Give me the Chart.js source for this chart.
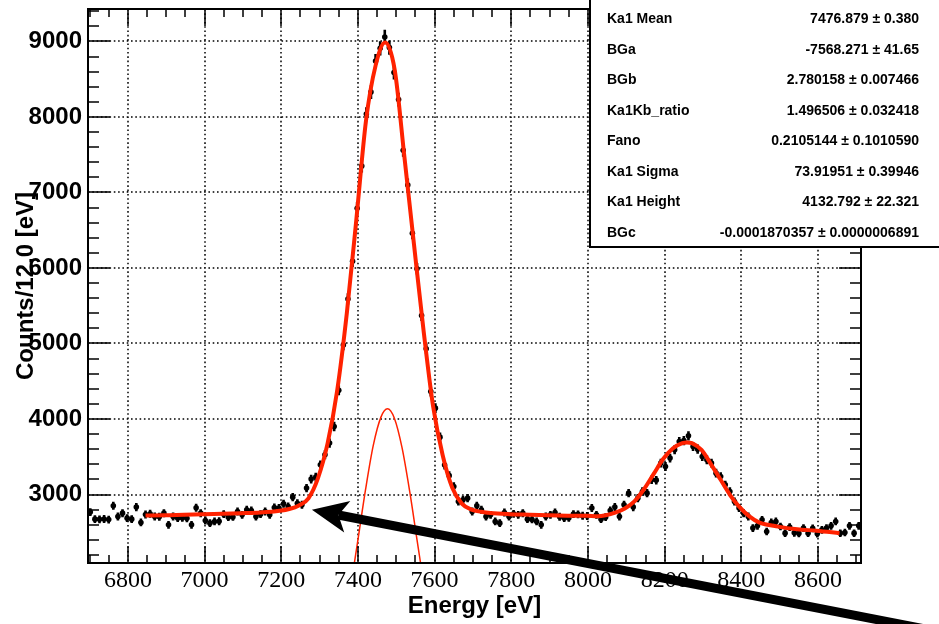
<!DOCTYPE html>
<html lang="en">
<head>
    <meta charset="UTF-8">
    <title>Energy spectrum fit</title>
    <script src="https://cdn.jsdelivr.net/npm/chart.js"></script>
    <style>
        body { margin: 0; background: #fff; }
    </style>
</head>
<body>
    <canvas id="specChart" width="939" height="624"></canvas>

    <script>
        // histogram, 12 eV bins starting at 6696 eV
        const binStart = 6696;
        const binWidth = 12;
        const counts = [
            2767, 2674, 2671, 2676, 2668, 2850, 2709, 2753, 2687, 2674,
            2833, 2630, 2735, 2745, 2709, 2706, 2753, 2599, 2709, 2687,
            2690, 2684, 2599, 2824, 2753, 2656, 2621, 2643, 2646, 2740,
            2700, 2703, 2775, 2731, 2797, 2788, 2709, 2740, 2775, 2731,
            2828, 2820, 2877, 2841, 2965, 2885,
            2864, 3085, 3204, 3230, 3393, 3526, 3681, 3901, 4380,
            4980, 5590, 6090, 6790, 7350, 8040, 8330, 8740, 8910, 9060,
            8920, 8590, 8230, 7560, 7100, 6460, 5990, 5370, 4930, 4364,
            4144, 3760, 3390, 3250,
            3106, 2907, 2930, 2952, 2775, 2850, 2797, 2709, 2731, 2643,
            2621, 2762, 2709, 2744, 2731, 2753, 2674, 2670, 2643, 2599,
            2709, 2731, 2762, 2706, 2687, 2690, 2740, 2737, 2718, 2715,
            2820, 2731,
            2674, 2700, 2788, 2833, 2709, 2864, 3018, 2833, 2952, 3040,
            3018, 3195, 3190, 3416, 3371, 3482, 3592, 3702, 3715, 3777,
            3636, 3601, 3503, 3460, 3416, 3283, 3238, 3128, 3040, 2907,
            2820, 2753, 2709, 2555, 2585, 2665, 2510, 2630, 2643, 2576,
            2488, 2568, 2492, 2485, 2555, 2488, 2551, 2480, 2532, 2555,
            2585, 2643, 2488, 2497, 2585, 2488, 2585
        ];

        // total fit (thick red)
        const fitEnergy = [
            6846, 6896, 6946, 6996, 7046, 7096, 7146, 7196, 7221, 7246,
            7271, 7296, 7321, 7346, 7371, 7396, 7421, 7446, 7471, 7496,
            7521, 7546, 7571, 7596, 7621, 7646, 7671, 7696, 7721, 7746,
            7796, 7846, 7896, 7946, 7996, 8026, 8046, 8071, 8096, 8121,
            8146, 8171, 8196, 8221, 8246, 8258, 8271, 8296, 8321, 8346,
            8371, 8396, 8421, 8446, 8496, 8546, 8596, 8656
        ];
        const fitCounts = [
            2722, 2726, 2731, 2740, 2745, 2752, 2762, 2785, 2808, 2855,
            2950, 3220, 3680, 4380, 5400, 6650, 7950, 8680, 8985, 8620,
            7480, 6320, 5180, 4170, 3520, 3090, 2880, 2800, 2772, 2755,
            2740, 2732, 2725, 2720, 2718, 2712, 2725, 2760, 2815, 2910,
            3070, 3270, 3470, 3610, 3680, 3690, 3680, 3590, 3400, 3195,
            2990, 2830, 2710, 2630, 2575, 2540, 2520, 2488
        ];

        // Ka1 component (thin red)
        const ka1Energy = [7360, 7380, 7400, 7420, 7440, 7460, 7477, 7495, 7515, 7535, 7555, 7575, 7595];
        const ka1Counts = [1180, 1750, 2400, 3070, 3650, 4025, 4135, 4010, 3620, 3040, 2370, 1715, 1155];

        const xTicks = [6800, 7000, 7200, 7400, 7600, 7800, 8000, 8200, 8400, 8600];
        const yTicks = [3000, 4000, 5000, 6000, 7000, 8000, 9000];

        const statNames = ["Ka1 Mean", "BGa", "BGb", "Ka1Kb_ratio", "Fano", "Ka1 Sigma", "Ka1 Height", "BGc"];
        const statValues = [
            "7476.879 \u00b1 0.380",
            "-7568.271 \u00b1 41.65",
            "2.780158 \u00b1 0.007466",
            "1.496506 \u00b1 0.032418",
            "0.2105144 \u00b1 0.1010590",
            "73.91951 \u00b1 0.39946",
            "4132.792 \u00b1 22.321",
            "-0.0001870357 \u00b1 0.0000006891"
        ];

        // arrow annotation, in data units
        const arrowTip = [7280, 2797];
        const arrowTail = [8918, 1181];

        const red = "#ff2200";

        const points = counts.map((c, i) => ({ x: binStart + binWidth * (i + 0.5), y: c }));
        const fitLine = fitEnergy.map((e, i) => ({ x: e, y: fitCounts[i] }));
        const ka1Line = ka1Energy.map((e, i) => ({ x: e, y: ka1Counts[i] }));

        // ROOT style frame: dotted grid, error bars, inner ticks, stats box, arrow
        const rootStyle = {
            id: "rootStyle",
            beforeDatasetsDraw(chart) {
                const { ctx, chartArea: a, scales: { x, y } } = chart;
                ctx.save();
                ctx.strokeStyle = "#000";
                ctx.lineWidth = 1.5;
                ctx.setLineDash([1.6, 2.7]);
                ctx.beginPath();
                xTicks.forEach(v => {
                    const px = Math.round(x.getPixelForValue(v));
                    ctx.moveTo(px, a.top);
                    ctx.lineTo(px, a.bottom);
                });
                yTicks.forEach(v => {
                    const py = Math.round(y.getPixelForValue(v));
                    ctx.moveTo(a.left, py);
                    ctx.lineTo(a.right, py);
                });
                ctx.stroke();
                ctx.setLineDash([]);

                // poisson error bars
                ctx.lineWidth = 2.6;
                ctx.beginPath();
                points.forEach(p => {
                    const px = x.getPixelForValue(p.x);
                    const e = Math.sqrt(p.y);
                    ctx.moveTo(px, y.getPixelForValue(p.y + e));
                    ctx.lineTo(px, y.getPixelForValue(p.y - e));
                });
                ctx.stroke();
                ctx.restore();
            },
            afterDatasetsDraw(chart) {
                const { ctx, chartArea: a, scales: { x, y } } = chart;
                ctx.save();
                ctx.strokeStyle = "#000";
                ctx.lineWidth = 2;
                ctx.strokeRect(a.left, a.top, a.right - a.left, a.bottom - a.top);
                ctx.lineWidth = 1.5;
                ctx.beginPath();
                for (let v = Math.ceil(x.min / 50) * 50; v <= x.max; v += 50) {
                    const px = Math.round(x.getPixelForValue(v));
                    const len = v % 200 === 0 ? 17 : 8;
                    ctx.moveTo(px, a.bottom);
                    ctx.lineTo(px, a.bottom - len);
                    ctx.moveTo(px, a.top);
                    ctx.lineTo(px, a.top + len);
                }
                for (let v = Math.ceil(y.min / 200) * 200; v <= y.max; v += 200) {
                    const py = Math.round(y.getPixelForValue(v));
                    const len = v % 1000 === 0 ? 22 : 11;
                    ctx.moveTo(a.left, py);
                    ctx.lineTo(a.left + len, py);
                    ctx.moveTo(a.right, py);
                    ctx.lineTo(a.right - len, py);
                }
                ctx.stroke();
                ctx.restore();
            },
            afterDraw(chart) {
                const { ctx, scales: { x, y } } = chart;
                ctx.save();

                // stats box
                ctx.fillStyle = "#fff";
                ctx.fillRect(590, -5, 360, 252);
                ctx.strokeStyle = "#000";
                ctx.lineWidth = 2;
                ctx.strokeRect(590, -5, 360, 252);
                ctx.fillStyle = "#000";
                ctx.font = 'bold 14px "Liberation Sans"';
                ctx.textBaseline = "middle";
                statNames.forEach((name, i) => {
                    const ty = 19.5 + i * 30.5;
                    ctx.textAlign = "left";
                    ctx.fillText(name, 607, ty);
                    ctx.textAlign = "right";
                    ctx.fillText(statValues[i], 919, ty);
                });

                // arrow
                const tx = x.getPixelForValue(arrowTip[0]);
                const ty = y.getPixelForValue(arrowTip[1]);
                const sx = x.getPixelForValue(arrowTail[0]);
                const sy = y.getPixelForValue(arrowTail[1]);
                const ang = Math.atan2(ty - sy, tx - sx);
                const c = Math.cos(ang), s = Math.sin(ang);
                const headLen = 36, headHalf = 16, notch = 27;
                ctx.lineWidth = 9;
                ctx.beginPath();
                ctx.moveTo(sx, sy);
                ctx.lineTo(tx - notch * c, ty - notch * s);
                ctx.stroke();
                const bx = tx - headLen * c, by = ty - headLen * s;
                ctx.beginPath();
                ctx.moveTo(tx, ty);
                ctx.lineTo(bx - headHalf * s, by + headHalf * c);
                ctx.lineTo(tx - notch * c, ty - notch * s);
                ctx.lineTo(bx + headHalf * s, by - headHalf * c);
                ctx.closePath();
                ctx.fill();
                ctx.restore();
            }
        };

        const ctx = document.getElementById("specChart").getContext("2d");
        new Chart(ctx, {
            type: "scatter",
            data: {
                datasets: [
                    {
                        label: "fit",
                        data: fitLine,
                        showLine: true,
                        borderColor: red,
                        borderWidth: 4,
                        pointRadius: 0,
                        cubicInterpolationMode: "monotone",
                        order: 0
                    },
                    {
                        label: "Ka1",
                        data: ka1Line,
                        showLine: true,
                        borderColor: red,
                        borderWidth: 1.5,
                        pointRadius: 0,
                        cubicInterpolationMode: "monotone",
                        order: 1
                    },
                    {
                        label: "data",
                        data: points,
                        backgroundColor: "#000",
                        borderColor: "#000",
                        pointRadius: 2.8,
                        borderWidth: 0,
                        order: 2
                    }
                ]
            },
            options: {
                responsive: false,
                animation: false,
                devicePixelRatio: 1,
                layout: { padding: { left: 0, top: 9, right: 78, bottom: 0 } },
                plugins: { legend: { display: false }, tooltip: { enabled: false } },
                scales: {
                    x: {
                        type: "linear",
                        min: 6696,
                        max: 8712,
                        grid: { display: false, drawTicks: false },
                        border: { display: false },
                        afterBuildTicks: s => { s.ticks = xTicks.map(v => ({ value: v })); },
                        afterFit: s => { s.height = 61; s.paddingLeft = 0; s.paddingRight = 0; },
                        ticks: {
                            autoSkip: false,
                            maxRotation: 0,
                            padding: 3,
                            color: "#000",
                            font: { family: "Liberation Serif", size: 24 },
                            callback: v => String(v)
                        },
                        title: {
                            display: true,
                            text: "Energy [eV]",
                            color: "#000",
                            font: { family: "Liberation Sans", weight: "bold", size: 24 },
                            padding: { top: 0, bottom: 3 }
                        }
                    },
                    y: {
                        min: 2093,
                        max: 9430,
                        grid: { display: false, drawTicks: false },
                        border: { display: false },
                        afterBuildTicks: s => { s.ticks = yTicks.map(v => ({ value: v })); },
                        afterFit: s => { s.width = 88; s.paddingTop = 0; s.paddingBottom = 0; },
                        ticks: {
                            padding: 6,
                            color: "#000",
                            font: { family: "Liberation Sans", weight: "bold", size: 24 },
                            callback: v => String(v)
                        },
                        title: {
                            display: true,
                            text: "Counts/12.0 [eV]",
                            color: "#000",
                            font: { family: "Liberation Sans", weight: "bold", size: 24 },
                            padding: { top: 12, bottom: 0 }
                        }
                    }
                }
            },
            plugins: [rootStyle]
        });
    </script>
</body>
</html>
